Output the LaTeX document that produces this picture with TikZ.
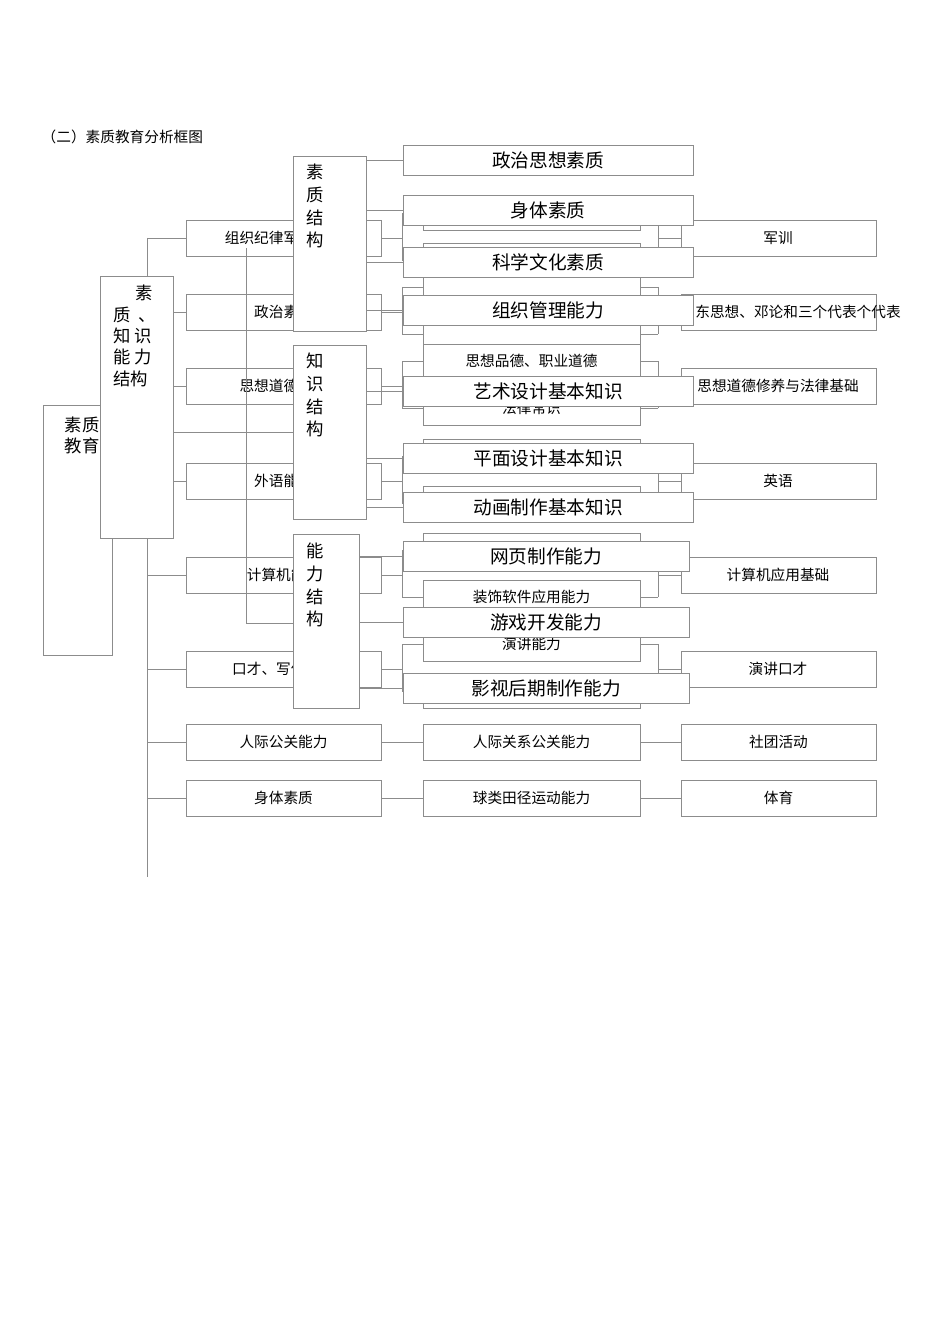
\documentclass[tikz,border=0pt]{standalone}
\usepackage{fontspec}
\setmainfont{Noto Sans CJK SC}
\begin{document}
\begin{tikzpicture}[x=0.75pt,y=-0.75pt,
  ln/.style={draw=black!45,line width=0.6pt},
  bx/.style={draw=black!45,fill=white,line width=0.6pt,inner sep=0pt},
  sm/.style={font=\fontsize{11}{13}\selectfont},
  bg/.style={font=\fontsize{14}{16}\selectfont}]
\useasboundingbox (0,0) rectangle (950,1344);
\node[anchor=west,sm] (title) at (37,137) {（二）素质教育分析框图};
% main spine
\coordinate (s0) at (147,238); \coordinate (s1) at (147,877);
\draw[ln] (s0) -- (s1);
% rows with two sub boxes
\foreach \c/\lt/\rt/\ma/\mb/\n/\tx in {238/组织纪律军事素质/军训///a/778,312/政治素质/东思想、邓论和三个代表个代表///b/798,386/思想道德素质/思想道德修养与法律基础/思想品德、职业道德/法律常识/c/778,481/外语能力/英语///d/778,575/计算机能力/计算机应用基础//装饰软件应用能力/e/778,669/口才、写作能力/演讲口才/演讲能力//f/778}{
  \draw[ln] (147,\c) -- (186,\c);
  \draw[ln] (381,\c) -- (402,\c) (402,\c-25) -- (402,\c+22) (402,\c-25) -- (423,\c-25) (402,\c+22) -- (423,\c+22);
  \draw[ln] (640,\c-25) -- (658,\c-25) (640,\c+22) -- (658,\c+22) (658,\c-25) -- (658,\c+22) (658,\c) -- (681,\c);
  \node[bx,sm,minimum width=195*0.75pt,minimum height=36*0.75pt] (L\n) at (283.5,\c) {\lt};
  \node[bx,sm,minimum width=217*0.75pt,minimum height=34*0.75pt] (A\n) at (531.5,\c-25) {\ma};
  \node[bx,sm,minimum width=217*0.75pt,minimum height=34*0.75pt] (B\n) at (531.5,\c+22) {\mb};
  \node[bx,sm,minimum width=195*0.75pt,minimum height=36*0.75pt] (R\n) at (778.5,\c) {};
  \node[sm] (T\n) at (\tx,\c) {\rt};
}
\foreach \c/\lt/\mt/\rt/\n in {742/人际公关能力/人际关系公关能力/社团活动/g,798/身体素质/球类田径运动能力/体育/h}{
  \node[bx,sm,minimum width=195*0.75pt,minimum height=36*0.75pt] (L\n) at (283.5,\c) {\lt};
  \node[bx,sm,minimum width=217*0.75pt,minimum height=36*0.75pt] (M\n) at (531.5,\c) {\mt};
  \node[bx,sm,minimum width=195*0.75pt,minimum height=36*0.75pt] (R\n) at (778.5,\c) {\rt};
  \draw[ln] (147,\c) -- (L\n.west) (L\n) -- (M\n) (M\n) -- (R\n);
}
% inner lines
\draw[ln] (246,248) -- (246,623) -- (293,623);
\draw[ln] (173,432) -- (293,432);
% big left boxes
\node[bx,minimum width=69*0.75pt,minimum height=250*0.75pt] (edu) at (77.5,530) {};
\node[sm,font=\fontsize{13}{16}\selectfont,align=left,anchor=north west] (edut) at (60,412) {素质\\教育};
\node[bx,minimum width=73*0.75pt,minimum height=262*0.75pt] (ks) at (136.5,407) {};
\node[font=\fontsize{13}{16}\selectfont,align=left,anchor=north west,inner sep=0pt] (kst) at (113,285) {\hspace{1.3em}素\\质\ \ 、\\知\ 识\\能\ 力\\结构};
% structure boxes
\node[bx,minimum width=73*0.75pt,minimum height=175*0.75pt] (S1) at (329.5,243.5) {};
\node[bx,minimum width=73*0.75pt,minimum height=174*0.75pt] (S2) at (329.5,432) {};
\node[bx,minimum width=66*0.75pt,minimum height=174*0.75pt] (S3) at (326,621) {};
\node[font=\fontsize{13}{17}\selectfont,align=left,anchor=north west,inner sep=0pt] at (306,164) {素\\质\\结\\构};
\node[font=\fontsize{13}{17}\selectfont,align=left,anchor=north west,inner sep=0pt] at (306,353) {知\\识\\结\\构};
\node[font=\fontsize{13}{17}\selectfont,align=left,anchor=north west,inner sep=0pt] at (306,543) {能\\力\\结\\构};
% top boxes
\foreach \y/\t/\w/\n/\s in {160/政治思想素质/290/p1/S1,210/身体素质/290/p2/S1,262/科学文化素质/290/p3/S1,310/组织管理能力/290/p4/S1,391/艺术设计基本知识/290/p5/S2,458/平面设计基本知识/290/p6/S2,507/动画制作基本知识/290/p7/S2,556/网页制作能力/286/p8/S3,622/游戏开发能力/286/p9/S3,688/影视后期制作能力/286/p10/S3}{
  \node[bx,bg,minimum width=\w*0.75pt,minimum height=30*0.75pt] (\n) at (403+\w/2,\y) {\t};
  \draw[ln] (\s.east |- \n.west) -- (\n.west);
}
\end{tikzpicture}
\end{document}
